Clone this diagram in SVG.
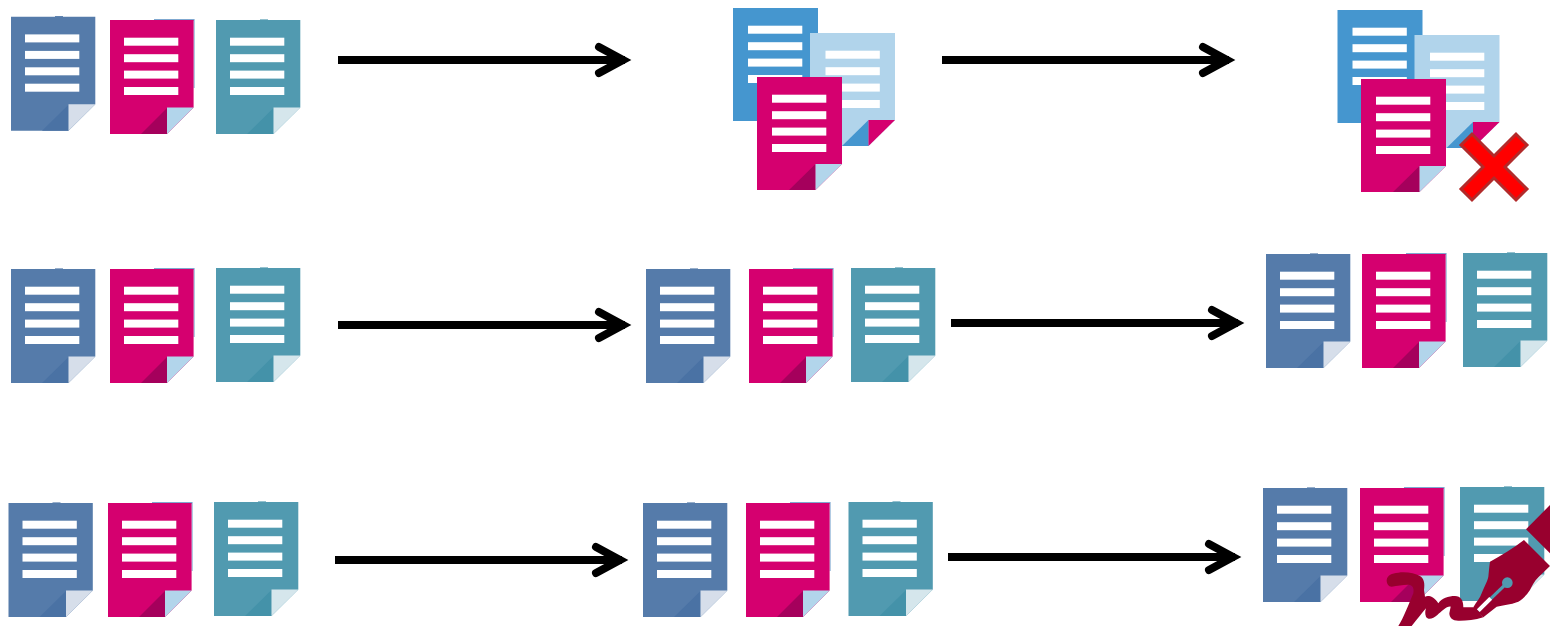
<svg xmlns="http://www.w3.org/2000/svg" width="1550" height="626" viewBox="0 0 1550 626">
<style>
.ln{fill:#fff}
.conn{fill:none;stroke:#000;stroke-width:8;stroke-linecap:butt}
.head{fill:none;stroke:#000;stroke-width:8;stroke-linecap:round;stroke-linejoin:miter;stroke-miterlimit:10}
.pen{fill:#98002e}
</style>
<defs>
<g id="lines"><rect class="ln" x="14" y="17.7" width="54.3" height="8"/><rect class="ln" x="14" y="34.2" width="54.3" height="8"/><rect class="ln" x="14" y="50.6" width="54.3" height="8"/><rect class="ln" x="14" y="67" width="54.3" height="8"/></g>
<g id="docSlate"><rect x="44" y="-.6" width="8" height="2" fill="#557baa"/><path d="M0 0H84.3V87.5L57.5 114H0Z" fill="#557baa"/><path d="M57.5 88L31 114H57.5Z" fill="#4a72a4"/><path d="M57.5 87.5H84.3L57.5 114Z" fill="#d6deea"/><use href="#lines"/></g>
<g id="docPink"><path d="M44 -1H84.6V68H83.6V1H44Z" fill="#7fa8d0"/><path d="M0 0H83.600V87.5L57 114H0Z" fill="#d5006f"/><path d="M57 88L31 114H57Z" fill="#a5005c"/><path d="M57 87.5H83.600L57 114Z" fill="#b2d5eb"/><use href="#lines"/></g>
<g id="docPinkS"><path d="M0 0H85V87L58.500 113H0Z" fill="#d5006f"/><path d="M58.500 87L32 113H58.500Z" fill="#a5005c"/><path d="M58.500 87H85L58.500 113Z" fill="#b2d5eb"/><use href="#lines" x="1"/></g>
<g id="docTeal"><rect x="44" y="-.6" width="8" height="2" fill="#519ab0"/><path d="M0 0H84.3V87.5L57.5 114H0Z" fill="#519ab0"/><path d="M57.5 88L31 114H57.5Z" fill="#4492a9"/><path d="M57.5 87.5H84.3L57.5 114Z" fill="#d5e6ec"/><use href="#lines"/></g>
<g id="docBlue"><path d="M0 0H85V113H0Z" fill="#4596cf"/><use href="#lines" x="1"/></g>
<g id="docLight"><path d="M0 0H85V87L58.500 113H0Z" fill="#b1d4eb"/><path d="M58.500 87L32 113H58.500Z" fill="#4596cf"/><path d="M58.500 87H85L58.500 113Z" fill="#d5006f"/><use href="#lines" x="1.500"/></g>
<g id="arrowHead"><path class="head" d="M-32 -13L-8 0L-32 13"/></g>
</defs>
<g id="connectors">
<path class="conn" d="M338 60H625"/><use href="#arrowHead" x="631" y="60"/>
<path class="conn" d="M942 60H1229"/><use href="#arrowHead" x="1235" y="60"/>
<path class="conn" d="M338 325H625"/><use href="#arrowHead" x="631" y="325"/>
<path class="conn" d="M951 323H1238"/><use href="#arrowHead" x="1244" y="323"/>
<path class="conn" d="M335 560H622"/><use href="#arrowHead" x="628" y="560"/>
<path class="conn" d="M948 557H1235"/><use href="#arrowHead" x="1241" y="557"/>
</g>
<g id="r1d1"><use href="#docSlate" x="11" y="16.7"/></g>
<g id="r1d2"><use href="#docPink" x="110" y="20"/></g>
<g id="r1d3"><use href="#docTeal" x="216" y="20"/></g>
<g id="stack1"><use href="#docBlue" x="733" y="8"/><use href="#docLight" x="810" y="33"/><use href="#docPinkS" x="757" y="77"/></g>
<g id="stack2"><use href="#docBlue" x="1337.5" y="10"/><use href="#docLight" x="1414.5" y="35"/><use href="#docPinkS" x="1361" y="79"/></g>
<g id="cross"><path d="M1494 156L1472 134L1461 145L1483 167L1461 189L1472 200L1494 178L1516 200L1527 189L1505 167L1527 145L1516 134Z" fill="#f00" stroke="#b22a2a" stroke-width="3"/></g>
<g id="r2d1"><use href="#docSlate" x="11" y="269"/></g>
<g id="r2d2"><use href="#docPink" x="110" y="269"/></g>
<g id="r2d3"><use href="#docTeal" x="216" y="268"/></g>
<g id="r2d4"><use href="#docSlate" x="646" y="269"/></g>
<g id="r2d5"><use href="#docPink" x="749" y="269"/></g>
<g id="r2d6"><use href="#docTeal" x="851" y="268"/></g>
<g id="r2d7"><use href="#docSlate" x="1266" y="254"/></g>
<g id="r2d8"><use href="#docPink" x="1362" y="254"/></g>
<g id="r2d9"><use href="#docTeal" x="1463" y="253"/></g>
<g id="r3d1"><use href="#docSlate" x="8.5" y="503"/></g>
<g id="r3d2"><use href="#docPink" x="108" y="503"/></g>
<g id="r3d3"><use href="#docTeal" x="214" y="502"/></g>
<g id="r3d4"><use href="#docSlate" x="643" y="503"/></g>
<g id="r3d5"><use href="#docPink" x="746" y="503"/></g>
<g id="r3d6"><use href="#docTeal" x="848.5" y="502"/></g>
<g id="r3d7"><use href="#docSlate" x="1263" y="488"/></g>
<g id="r3d8"><use href="#docPink" x="1360" y="488"/></g>
<g id="r3d9"><use href="#docTeal" x="1460" y="487"/></g>
<g id="pen" transform="translate(1350 490) scale(.33333)">
<path class="pen" d="M600 45L528 118L600 190Z"/>
<path class="pen" d="M522 150L600 228L565 262C552 275 545 290 540 300C530 315 518 328 505 335C480 345 460 345 440 350L400 382L370 352C380 335 390 325 395 310C405 285 412 275 415 260C417 240 418 228 420 215C455 195 490 175 522 150Z"/>
<path class="pen" d="M110 270C112 255 125 250 145 248C170 245 195 250 210 258C222 265 225 280 222 300L225 320C235 316 250 318 265 340C275 325 295 318 315 318C332 318 340 330 340 352L375 352L400 382C375 390 350 392 330 392C310 394 298 385 298 370L302 350C290 348 275 365 262 375C250 385 235 392 228 380C224 370 226 362 228 355C215 370 200 390 185 408H145C160 385 175 345 190 310C192 298 190 288 180 285C165 283 145 288 125 290C115 290 110 282 110 270Z"/>
<path d="M472 278L385 362" stroke="#519ab0" stroke-width="10" fill="none"/>
<path d="M422 325L385 362" stroke="#fff" stroke-width="12" fill="none"/>
<circle cx="472" cy="278" r="16" fill="#519ab0"/>
</g>
</svg>
